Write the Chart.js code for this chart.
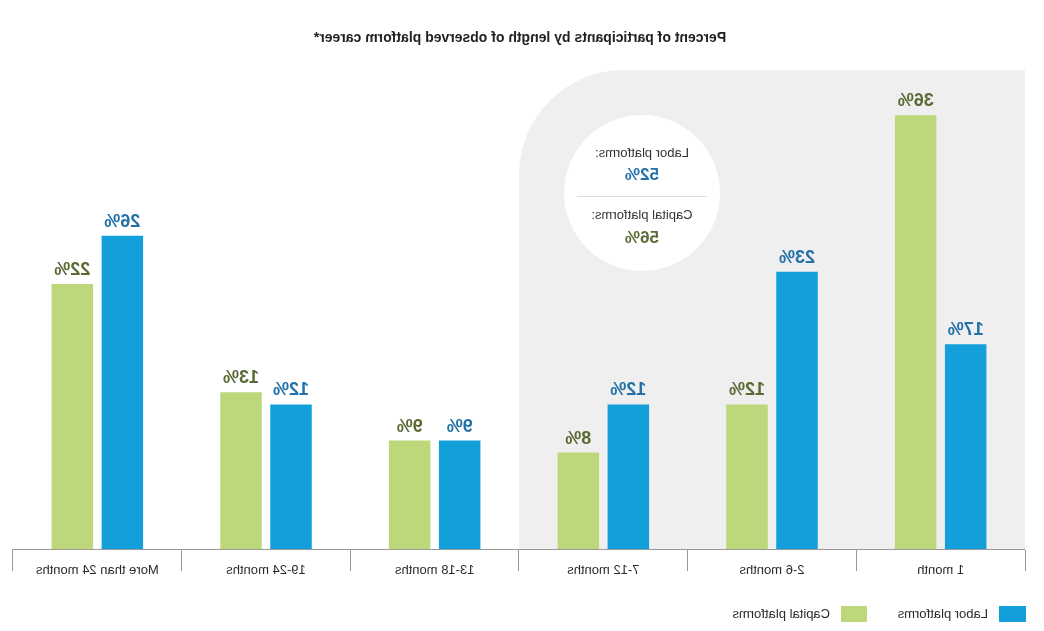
<!DOCTYPE html>
<html>
<head>
<meta charset="utf-8">
<script src="https://cdn.jsdelivr.net/npm/chart.js@4/dist/chart.umd.min.js"></script>
<style>
  html, body { margin: 0; padding: 0; background: #ffffff; }
  #wrap { width: 1044px; height: 631px; transform: scaleX(-1); transform-origin: center; }
</style>
</head>
<body>
<div id="wrap"><canvas id="c" width="1044" height="631"></canvas></div>
<script>
// ---- data ----
const categories = ['1 month', '2-6 months', '7-12 months', '13-18 months', '19-24 months', 'More than 24 months'];
const laborValues = [17, 23, 12, 9, 12, 26];
const capitalValues = [36, 12, 8, 9, 13, 22];
const seriesNames = ['Labor platforms', 'Capital platforms'];
const laborShortTotal = 52;   // share with careers of 12 months or less
const capitalShortTotal = 56;
const chartTitle = 'Percent of participants by length of observed platform career*';

// ---- styles ----
const BLUE = '#139fda', GREEN = '#bdd77b';
const BLUE_TXT = '#2271a8', GREEN_TXT = '#5b6a33';
const FONT = '"Liberation Sans", Arial, sans-serif';

const decor = {
  id: 'decor',
  beforeDraw(chart) {
    const ctx = chart.ctx, a = chart.chartArea, xs = chart.scales.x;
    const step = xs.getPixelForValue(1) - xs.getPixelForValue(0);
    const left = a.left, right = xs.getPixelForValue(2) + step / 2;
    const top = a.top + 3, bottom = a.bottom, r = 105;
    ctx.save();
    ctx.fillStyle = '#efefef';
    ctx.beginPath();
    ctx.moveTo(left, bottom);
    ctx.lineTo(left, top);
    ctx.lineTo(right - r, top);
    ctx.arc(right - r, top + r, r, -Math.PI / 2, 0);
    ctx.lineTo(right, bottom);
    ctx.closePath();
    ctx.fill();
    // title
    ctx.fillStyle = '#222';
    ctx.font = 'bold 14px ' + FONT;
    ctx.textAlign = 'center';
    ctx.textBaseline = 'middle';
    ctx.fillText(chartTitle, 524, 38);
    // circle
    const cx = xs.getPixelForValue(2) + step / 2 - 123, cy = 193, cr = 78;
    ctx.fillStyle = '#ffffff';
    ctx.beginPath();
    ctx.arc(cx, cy, cr, 0, Math.PI * 2);
    ctx.fill();
    ctx.strokeStyle = '#dddddd';
    ctx.lineWidth = 1;
    ctx.beginPath();
    ctx.moveTo(cx - 65, cy + 3.5);
    ctx.lineTo(cx + 65, cy + 3.5);
    ctx.stroke();
    ctx.fillStyle = '#333';
    ctx.font = '13px ' + FONT;
    ctx.fillText(seriesNames[0] + ':', cx, cy - 40);
    ctx.fillText(seriesNames[1] + ':', cx, cy + 22);
    ctx.font = 'bold 17px ' + FONT;
    ctx.fillStyle = BLUE_TXT;
    ctx.fillText(laborShortTotal + '%', cx, cy - 18);
    ctx.fillStyle = GREEN_TXT;
    ctx.fillText(capitalShortTotal + '%', cx, cy + 45);
    ctx.restore();
  },
  afterDatasetsDraw(chart) {
    const ctx = chart.ctx;
    const txtColors = [BLUE_TXT, GREEN_TXT];
    ctx.save();
    ctx.font = 'bold 18px ' + FONT;
    ctx.textAlign = 'center';
    ctx.textBaseline = 'alphabetic';
    chart.data.datasets.forEach((ds, i) => {
      chart.getDatasetMeta(i).data.forEach((bar, j) => {
        ctx.fillStyle = txtColors[i];
        ctx.fillText(ds.data[j] + '%', bar.x, bar.y - 9);
      });
    });
    ctx.restore();
  },
  afterDraw(chart) {
    const ctx = chart.ctx;
    const items = [
      { x: 18, w: 27, color: BLUE, text: seriesNames[0], tx: 56 },
      { x: 177, w: 26, color: GREEN, text: seriesNames[1], tx: 214 }
    ];
    ctx.save();
    ctx.font = '13px ' + FONT;
    ctx.textAlign = 'left';
    ctx.textBaseline = 'middle';
    items.forEach(it => {
      ctx.fillStyle = it.color;
      ctx.fillRect(it.x, 606, it.w, 16);
      ctx.fillStyle = '#2a2a2a';
      ctx.fillText(it.text, it.tx, 614);
    });
    ctx.restore();
  }
};

new Chart(document.getElementById('c'), {
  type: 'bar',
  data: {
    labels: categories,
    datasets: [
      { label: seriesNames[0], data: laborValues, backgroundColor: BLUE },
      { label: seriesNames[1], data: capitalValues, backgroundColor: GREEN }
    ]
  },
  options: {
    responsive: false,
    devicePixelRatio: 1,
    animation: false,
    categoryPercentage: 0.593,
    barPercentage: 0.83,
    layout: { padding: { left: 19, right: 13, top: 67, bottom: 0 } },
    plugins: { legend: { display: false }, title: { display: false }, tooltip: { enabled: false } },
    scales: {
      x: {
        afterFit(scale) { scale.height = 82; },
        grid: { display: true, drawOnChartArea: false, drawTicks: true, tickLength: 22, color: '#999', lineWidth: 1, offset: true },
        border: { display: true, color: '#999', width: 1 },
        ticks: { color: '#2a2a2a', font: { family: FONT, size: 13 }, padding: -8, maxRotation: 0, autoSkip: false }
      },
      y: { display: false, min: 0, max: 40 }
    }
  },
  plugins: [decor]
});
</script>
</body>
</html>
